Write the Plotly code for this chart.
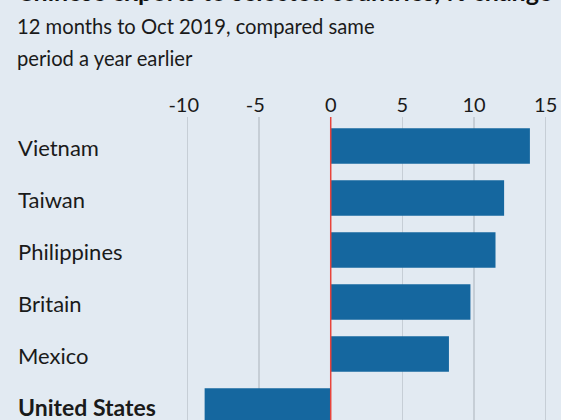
import plotly.graph_objects as go

countries = ["Vietnam", "Taiwan", "Philippines", "Britain", "Mexico", "United States"]
values = [13.9, 12.1, 11.5, 9.75, 8.25, -8.8]
tick_vals = [-10, -5, 0, 5, 10, 15]
tick_text = ["-10", "-5", "0", "5", "10", "15"]

title = "Chinese exports to selected countries, % change"
subtitle_lines = ["12 months to Oct 2019, compared same", "period a year earlier"]

BG = "#e2eaf2"
BAR = "#15679f"
GRID = "#c6ced6"
RED = "#e8443c"
FONT = "Lato"
INK = "#1a1a1a"

W, H = 561, 420
top_px = 117
plot_h = H - top_px

pos = list(range(len(countries)))

# hang the minus sign so the digits sit centred on the gridline
tick_labels = [
    t + "<span style='color:rgba(0,0,0,0)'>-</span>" if t.startswith("-") else t
    for t in tick_text
]

fig = go.Figure()
fig.add_trace(go.Bar(
    x=values, y=pos, orientation="h",
    marker=dict(color=BAR, line=dict(width=0)),
    width=0.68, hoverinfo="skip",
))

fig.update_layout(
    width=W, height=H,
    margin=dict(l=0, r=0, t=top_px, b=0),
    paper_bgcolor=BG, plot_bgcolor=BG,
    showlegend=False,
    font=dict(family=FONT, color=INK, size=20),
    xaxis=dict(
        range=[-23.08, 16.07], side="top",
        tickvals=tick_vals, ticktext=tick_labels,
        showgrid=True, gridcolor=GRID, gridwidth=1.5,
        zeroline=False, showline=False,
        ticks="", ticklen=0, ticklabelstandoff=0,
        tickfont=dict(size=20, family=FONT, color=INK),
        fixedrange=True,
    ),
    yaxis=dict(
        range=[5.269, -0.558], showticklabels=False, showgrid=False,
        zeroline=False, showline=False, fixedrange=True,
    ),
)

# zero line drawn over bars
fig.add_shape(type="line", xref="x", yref="paper", x0=0, x1=0, y0=0, y1=1,
              line=dict(color=RED, width=1.5), layer="above")

def py(px):
    return 1 + (top_px - px) / plot_h

for i, c in enumerate(countries):
    bold = c == "United States"
    txt = f"<b>{c}</b>" if bold else c
    fig.add_annotation(x=16 / W, xref="paper", y=i, yref="y", text=txt,
                       showarrow=False, xanchor="left", yanchor="middle",
                       font=dict(size=23 if bold else 22, family=FONT, color=INK),
                       yshift=-1)

fig.add_annotation(x=15 / W, xref="paper", y=py(-9), yref="paper",
                   text=f"<b>{title}</b>", showarrow=False, xanchor="left",
                   yanchor="middle", font=dict(size=25, family=FONT, color="#111"))
for k, line in enumerate(subtitle_lines):
    fig.add_annotation(x=15 / W, xref="paper", y=py(26 + 32 * k), yref="paper",
                       text=line, showarrow=False, xanchor="left", yanchor="middle",
                       font=dict(size=20.2, family=FONT, color=INK))

fig.write_html(
    "out.html",
    config={"displayModeBar": False, "staticPlot": True},
    post_script="document.body.style.margin='0';document.body.style.overflow='hidden';",
)
